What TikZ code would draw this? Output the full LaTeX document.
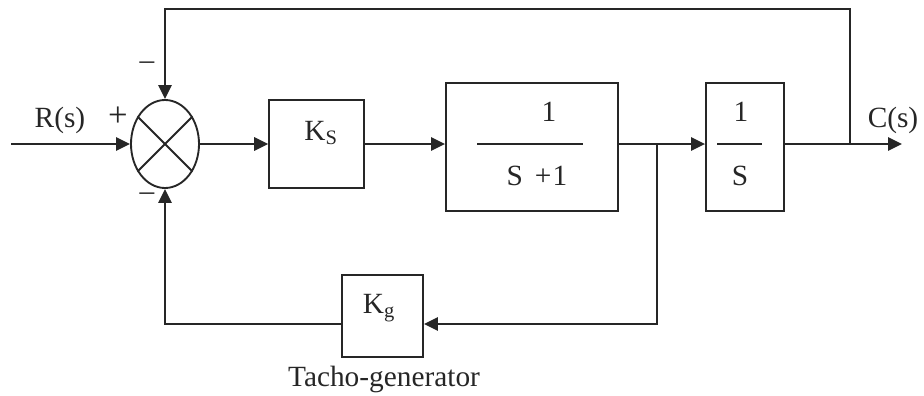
\documentclass[tikz,border=0pt]{standalone}
\usepackage{fontspec}
\setmainfont{Liberation Serif}
\usepackage{tikz}
\usetikzlibrary{arrows.meta, positioning, calc, shapes.geometric}

\tikzset{
  wire/.style={line width=1.4pt},
  sig/.style={line width=1.4pt, -{Triangle[length=10.5pt, width=10pt]}},
  block/.style={draw, line width=1.4pt, inner sep=0pt},
}

\begin{document}
\begin{tikzpicture}[x=0.75pt, y=-0.75pt, font=\fontsize{22}{26}\selectfont, color=black!85]
    \useasboundingbox (0,0) rectangle (924,396);
    \node[block, ellipse, minimum width=51pt, minimum height=66pt] (sum) at (165,144) {};
    \draw[wire] (sum.45) -- (sum.225) (sum.135) -- (sum.315);
    \node[block, minimum width=71pt, minimum height=66pt] (ks) at (316.5,144) {};
    \node[block, minimum width=129pt, minimum height=96pt] (blk1) at (532,147) {};
    \node[block, minimum width=58.5pt, minimum height=96pt] (blk2) at (745,147) {};
    \node[block, minimum width=60.75pt, minimum height=61.5pt] (kg) at (382.5,316) {};
    \node[anchor=base] (kslab) at (321,140) {K\textsubscript{S}};
    \node[anchor=base] (kglab) at (379,313) {K\textsubscript{g}};
    \node[anchor=base] (num1) at (549,121) {1};
    \node[anchor=base] (den1) at (537,185) {S\hspace{9pt}+\hspace{1pt}1};
    \draw[wire] (477,144) -- (583,144);
    \node[anchor=base] (num2) at (741,121) {1};
    \node[anchor=base] (den2) at (740,185) {S};
    \draw[wire] (717,144) -- (762,144);
    \node[anchor=base] (rin) at (60,127) {R(s)};
    \node[anchor=base] (cout) at (893,127) {C(s)};
    \node (plus) at (118,117) {\fontsize{26}{30}\selectfont +};
    \node (mtop) at (147,66) {–};
    \node (mbot) at (147,197) {–};
    \node[anchor=base] (tacho) at (384,386) {Tacho-generator};
    \coordinate (in) at (11,144);
    \coordinate (br) at (657,144);
    \coordinate (tap) at (850,144);
    \coordinate (out) at (902,144);
    \coordinate (top) at (850,9);
    \coordinate (fb) at (657,324);
    \draw[sig] (in) -- (sum.west);
    \draw[sig] (sum.east) -- (ks.west);
    \draw[sig] (ks.east) -- (ks.east -| blk1.west);
    \draw[wire] (br -| blk1.east) -- (br);
    \draw[sig] (br) -- (br -| blk2.west);
    \draw[sig] (br -| blk2.east) -- (out);
    \draw[sig] (tap) -- (top) -| (sum.north);
    \draw[sig] (br) -- (fb) -- (fb -| kg.east);
    \draw[sig] (fb -| kg.west) -| (sum.south);
\end{tikzpicture}
\end{document}
